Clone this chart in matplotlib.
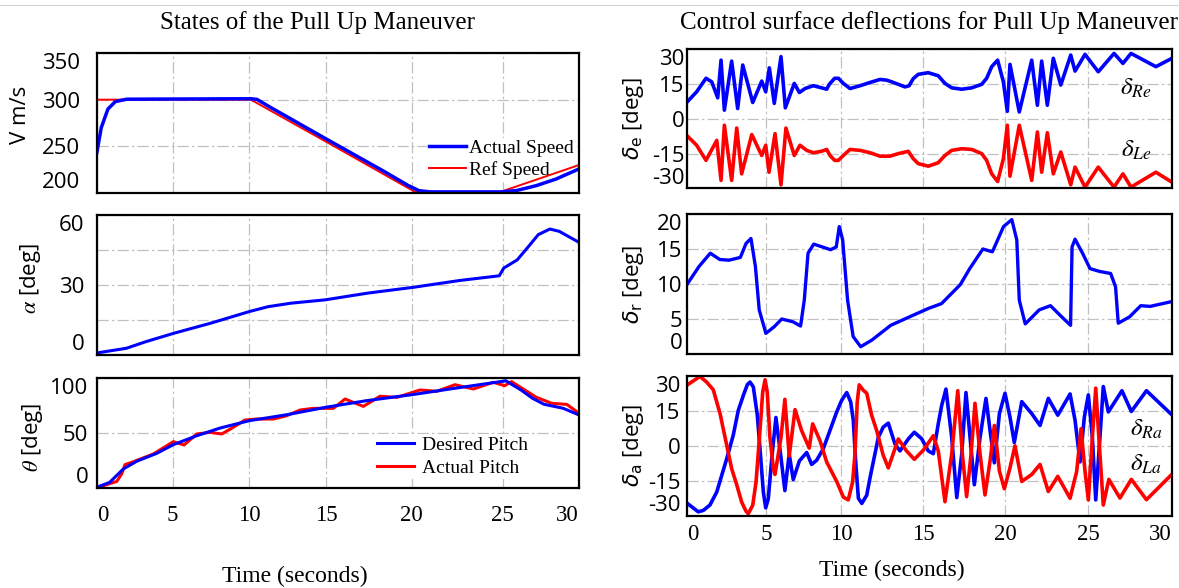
import numpy as np
import matplotlib
matplotlib.use("Agg")
import matplotlib.pyplot as plt
from matplotlib.lines import Line2D

# ---- data (time in seconds) ----
# speed [m/s]
t_vref = [0, 10.1, 15, 20.2, 24.85, 30]
v_ref = [300, 300, 255, 201, 201, 230]
t_vact = [0, 0.3, 0.74, 1.23, 1.97, 10.1, 10.5, 11.3, 15, 18.4, 19.8, 20.4, 21,
          24.9, 25.9, 27.2, 28.5, 30]
v_act = [242.5, 270, 290, 298, 300.5, 301, 300.3, 292.5, 258, 223, 208, 202.5, 201.2,
         201.2, 202.6, 207.9, 215, 225.8]

# angle of attack [deg]
t_alpha = [0, 1.95, 3.22, 5.06, 7.46, 10, 11.23, 12.73, 14.93, 17.44, 20.11, 22.64,
           24.81, 25.07, 25.95, 26.7, 27.33, 28.09, 28.71, 30]
alpha = [1.0, 3.0, 5.8, 9.4, 13.7, 18.7, 20.8, 22.3, 23.7, 26.6, 29.1, 32.0,
         34.0, 37.3, 40.8, 46.6, 51.6, 54.0, 53.0, 48.3]

# pitch [deg]
t_th_des = [0, 0.86, 1.75, 2.63, 3.95, 5.04, 6.57, 8.09, 10, 12.44, 15, 17.37, 20,
            22.47, 25, 25.2, 26.2, 26.96, 27.71, 28.96, 30]
th_des = [0.6, 5.2, 17.3, 24.3, 31.5, 39.4, 47.5, 54.5, 61.2, 66.6, 73.4, 79.4, 84.8,
          90.9, 97.0, 97.5, 89.1, 81.5, 76.1, 72.5, 66.4]
t_th_act = [0.1, 1.32, 1.64, 1.86, 2.41, 3.72, 5.04, 5.74, 6.57, 7.43, 8.2, 8.96, 9.72,
            10.48, 11.57, 12.44, 13.31, 14.17, 15.43, 16.11, 17.18, 18.15, 19.13,
            20.46, 21.38, 22.38, 23.39, 24.48, 25.13, 25.58, 27.21, 28.21, 29.2, 30]
th_act = [0.6, 6, 12.7, 21.2, 23.9, 30.9, 42.1, 39.1, 49.1, 50.6, 49.1, 55.2, 61.8,
          62.7, 62.7, 65.7, 70.9, 72.4, 72.4, 80.9, 74.2, 83.4, 82.4,
          89.1, 87.9, 93.9, 90, 96.1, 93, 96.7, 82.4, 77, 76, 68]

# elevator deflections [deg]
t_de_r = [0, 0.59, 1.18, 1.54, 1.92, 2.13, 2.34, 2.80, 3.18, 3.50, 4.13, 4.70, 4.95,
          5.19, 5.52, 5.97, 6.26, 6.86, 7.20, 7.58, 8.13, 8.69, 9.03, 9.20, 9.56, 9.81,
          10.13, 10.54, 11.15, 11.76, 12.37, 12.78, 13.08, 13.49, 13.90, 14.15, 14.41,
          14.71, 15.32, 15.93, 16.34, 16.75, 17.36, 17.97, 18.58, 18.88, 19.19, 19.55,
          19.90, 20.14, 20.30, 20.86, 21.61, 21.95, 22.21, 22.55, 22.91, 23.36, 23.96,
          24.22, 24.82, 25.61, 26.55, 27.08, 27.56, 29.04, 30]
de_r = [7.3, 11.6, 17.4, 15.9, 9.0, 25.2, 3.7, 24.8, 4.4, 23.1, 7.0, 16.2, 11.6,
        21.9, 6.6, 26.7, 4.7, 15.2, 11.3, 13.0, 14.2, 13.3, 12.7, 14.8, 17.4, 17.4,
        15.2, 13.0, 14.2, 15.6, 16.9, 16.6, 15.9, 14.8, 13.7, 14.2, 17.3,
        19.1, 19.8, 18.5, 15.2, 13.3, 12.7, 13.3, 14.8, 17.4, 22.4, 25.2,
        15.9, 3.2, 23.4, 2.9, 25.2, 5.8, 24.8, 5.8, 26.0, 14.5, 27.4,
        20.5, 27.7, 20.2, 28.1, 23.8, 28.1, 22.4, 26.0]
t_de_l = [0, 0.59, 1.18, 1.86, 2.13, 2.34, 2.80, 3.12, 3.43, 4.07, 4.70, 4.95, 5.17,
          5.57, 5.97, 6.30, 6.86, 7.24, 7.69, 8.13, 8.69, 9.03, 9.25, 9.56, 9.81, 10.13,
          10.54, 11.15, 11.76, 12.37, 12.98, 13.49, 14.10, 14.41, 14.71, 15.32, 15.93,
          16.34, 16.75, 17.36, 17.97, 18.58, 18.88, 19.19, 19.55, 19.90, 20.14, 20.30,
          20.86, 21.61, 21.95, 22.21, 22.55, 22.91, 23.36, 23.96, 24.22, 24.82, 25.61,
          26.55, 27.08, 27.56, 29.04, 30]
de_l = [-7.4, -11.4, -17.9, -9.3, -26.5, -2.8, -26.5, -4.0, -23.7, -6.8, -15.8, -11.4,
        -23.0, -6.4, -28.4, -4.0, -15.8, -11.4, -13.6, -14.6, -14.0, -13.2, -15.8,
        -17.9, -17.9, -15.8, -13.2, -13.6, -14.6, -16.1, -16.1, -15.0, -14.0, -17.2,
        -19.3, -20.4, -18.9, -15.8, -13.6, -12.9, -13.2, -15.0, -17.9, -23.7, -27.0,
        -17.2, -2.8, -24.7, -2.8, -26.5, -5.7, -23.0, -6.0, -23.7, -14.3, -28.4,
        -20.8, -29.4, -20.8, -29.4, -23.7, -29.4, -23.0, -27.3]

# rudder deflection [deg]
t_dr = [0, 0.74, 1.45, 2.05, 2.63, 3.35, 3.71, 4.02, 4.30, 4.54, 4.96, 5.52, 6.02, 6.77,
        7.28, 7.53, 7.78, 8.16, 9.29, 9.67, 9.87, 10.09, 10.39, 10.73, 11.19, 11.88,
        13.03, 14.17, 15.32, 16.13, 17.27, 17.85, 18.65, 19.23, 19.91, 20.41, 20.71,
        20.86, 21.22, 22.06, 22.74, 23.42, 23.95, 24.04, 24.22, 24.67, 25.12, 25.68,
        26.35, 26.64, 26.80, 27.47, 28.14, 28.70, 30]
dr = [10.0, 12.5, 14.4, 13.5, 13.4, 13.8, 15.8, 16.5, 12.5, 6.3, 2.95, 3.9, 5.0, 4.6,
      4.0, 7.7, 14.4, 15.7, 14.9, 15.3, 18.2, 16.3, 7.7, 2.5, 1.04, 2.0,
      4.1, 5.3, 6.5, 7.2, 9.9, 12.2, 15.0, 14.6, 18.2, 19.2, 16.3,
      7.7, 4.3, 6.3, 6.9, 5.3, 4.1, 15.3, 16.4, 14.4, 12.2, 11.8,
      11.5, 9.6, 4.4, 5.3, 6.9, 6.8, 7.5]

# aileron deflections [deg]
t_da_r = [0, 0.69, 1.01, 1.43, 1.86, 2.49, 2.90, 3.22, 3.54, 3.79, 3.96, 4.17, 4.42,
          4.59, 4.80, 4.95, 5.12, 5.35, 5.63, 5.97, 6.23, 6.52, 6.79, 7.20, 7.69, 8.02,
          8.36, 8.80, 9.25, 9.70, 10.03, 10.34, 10.58, 10.74, 10.90, 11.05, 11.26,
          11.56, 11.76, 12.27, 12.57, 12.88, 13.29, 13.59, 14.11, 14.47, 14.92, 15.32,
          15.63, 15.93, 16.14, 16.40, 16.75, 17.06, 17.36, 17.62, 17.87, 18.13, 18.48,
          18.84, 19.09, 19.35, 19.66, 20.0, 20.30, 20.56, 21.01, 21.61, 22.11, 22.61,
          23.18, 23.92, 24.22, 24.52, 24.78, 25.02, 25.26, 25.46, 25.71, 25.91, 26.21,
          27.02, 27.58, 28.48, 30]
da_r = [-24.6, -28.2, -27.6, -25.3, -19.7, -5.4, 4.6, 15.3, 21.7, 26.3, 27.4, 25.3, 13.2,
        -1.2, -19.7, -26.5, -22.6, -5.4, 12.2, -5.0, -19.1, -3.5, -14.4, -6.4, -2.8, -7.9,
        -6.1, -1.2, 6.7, 14.6, 19.6, 22.9, 18.9, 11.0, -8.3, -22.4, -24.6,
        -21.1, -13.7, 3.7, 8.1, 9.8, 0.8, -2.1, 3.1, 5.9, 3.1, -2.1,
        -3.3, 9.5, 17.4, 24.4, 3.7, -22.1, -3.5, 22.9, 3.7, -16.6, 3.7,
        20.4, 6.6, -7.2, 13.9, 22.6, 12.4, 1.5, 19.0, 13.9, 8.8, 20.4,
        13.2, 22.3, 11.0, -6.8, 12.4, 21.9, 3.7, -23.1, 3.7, 25.5, 14.6,
        23.7, 14.8, 23.7, 13.3]
t_da_l = [0, 0.80, 1.22, 1.64, 2.07, 2.49, 2.80, 3.12, 3.43, 3.71, 3.85, 4.13, 4.34,
          4.55, 4.76, 4.91, 5.05, 5.23, 5.46, 5.57, 5.97, 6.23, 6.52, 6.91, 7.35, 7.86,
          8.09, 8.58, 9.03, 9.70, 10.13, 10.43, 10.70, 10.84, 10.98, 11.10, 11.35,
          11.56, 11.86, 12.17, 12.57, 12.88, 13.49, 13.98, 14.47, 15.02, 15.63, 15.93,
          16.34, 16.75, 17.12, 17.40, 17.66, 17.93, 18.17, 18.48, 18.78, 19.09, 19.35,
          19.66, 19.96, 20.30, 20.60, 21.01, 21.61, 22.11, 22.61, 23.18, 23.92, 24.32,
          24.58, 24.82, 25.02, 25.26, 25.46, 25.71, 25.91, 26.24, 26.90, 27.58, 28.48, 30]
da_l = [26.2, 29.8, 27.4, 24.1, 13.8, 0.3, -9.7, -16.6, -24.0, -28.0, -29.0, -25.4, -15.4,
        3.1, 23.1, 28.4, 23.1, 3.7, -9.7, -12.2, 3.7, 20.0, -4.3, 15.6, 6.6, -0.9,
        9.5, 2.3, -6.9, -15.2, -21.9, -23.1, -15.4, -3.5, 18.9, 26.2, 23.9,
        22.6, 13.2, 6.6, -4.0, -9.4, 3.0, -2.0, -5.7, -1.8, 4.4, -2.1,
        -23.9, -3.5, 23.7, -3.5, -21.7, -3.5, 18.3, -3.5, -21.0, -6.4, 8.8,
        -10.8, -18.3, -9.4, 0.1, -15.2, -12.2, -7.9, -19.5, -13.0, -22.4, -10.8,
        7.4, -10.8, -23.1, 3.7, 24.8, -3.5, -25.3, -14.3, -22.3, -14.3, -23.0, -12.1]

T_TICKS = [0, 5, 10, 15, 20, 25, 30]

# ---- look ----
plt.rcParams['axes.unicode_minus'] = False
SERIF = 'Liberation Serif'
SANS = 'Open Sans'
BLUE = '#0000ff'
RED = '#ff0000'
W, H = 1179, 588

# the time grid of the original figure is not evenly spaced (pixel positions of 0..30 s)
GRID_L = [96.7, 172.7, 249.3, 326, 411.7, 502.7, 579]
GRID_R = [687.3, 766.5, 841.2, 923, 1005, 1088, 1172]


def px_box(x0, y0, x1, y1):
    return [x0 / W, 1 - y1 / H, (x1 - x0) / W, (y1 - y0) / H]


def uneven_scale(ax, grid):
    g = np.array(grid, float)
    s0 = (g[1] - g[0]) / 5
    s1 = (g[-1] - g[-2]) / 5
    tv = np.array([-100.0] + T_TICKS + [130.0])
    gp = np.concatenate([[g[0] - 100 * s0], g, [g[-1] + 100 * s1]])
    ax.set_xscale('function', functions=(lambda t: np.interp(t, tv, gp),
                                         lambda p: np.interp(p, gp, tv)))


def setup(ax, grid, ylim, yticks, ylabels, ypad, xlabels=False, xpad=6):
    uneven_scale(ax, grid)
    ax.set_xlim(0, 30)
    ax.set_xticks(T_TICKS)
    ax.set_ylim(*ylim)
    ax.set_yticks(yticks, ylabels)
    ax.grid(True, color='#c0c0c0', lw=0.9, ls=(0, (9, 2.5, 2, 2.5)))
    ax.set_axisbelow(True)
    for s in ax.spines.values():
        s.set_linewidth(1.6)
    ax.tick_params(length=0)
    ax.tick_params(axis='y', pad=ypad, labelsize=16, labelfontfamily=SANS)
    ax.tick_params(axis='x', pad=xpad, labelsize=16.5, labelfontfamily=SERIF,
                   labelbottom=xlabels)
    yl = ax.get_yticklabels()
    yl[0].set_va('bottom')
    yl[-1].set_va('top')
    if xlabels:
        xl = ax.get_xticklabels()
        xl[0].set_ha('left')
        xl[-1].set_ha('right')


def ylab(ax, text, x, y=0.5, mathfont='dejavusans'):
    ax.set_ylabel(text, family=SANS, fontsize=16, math_fontfamily=mathfont, va='center')
    ax.yaxis.set_label_coords(x, y)


fig = plt.figure(figsize=(W / 100, H / 100), dpi=100)
fig.add_artist(Line2D([0, 1], [1 - 4.5 / H] * 2, transform=fig.transFigure,
                      color='#d4d4d4', lw=0.8))

axL1 = fig.add_axes(px_box(96.7, 53, 579, 193))
axL2 = fig.add_axes(px_box(96.7, 215, 579, 355.3))
axL3 = fig.add_axes(px_box(96.7, 378, 579, 488))
axR1 = fig.add_axes(px_box(687.3, 49, 1172, 188.5))
axR2 = fig.add_axes(px_box(687.3, 214, 1172, 354))
axR3 = fig.add_axes(px_box(687.3, 376, 1172, 516))

leg_kw = dict(loc='upper left', borderaxespad=0, borderpad=0.1, handlelength=1.9,
              frameon=True, fancybox=False, edgecolor='none', facecolor='white',
              framealpha=1, prop={'family': SERIF, 'size': 14})

# speed
h_ref, = axL1.plot(t_vref, v_ref, color=RED, lw=1.4)
h_act, = axL1.plot(t_vact, v_act, color=BLUE, lw=2.5)
setup(axL1, GRID_L, (200, 350), [200, 250, 300, 350], ['200', '250', '300', '350'], 12)
ylab(axL1, 'V m/s', -0.157, 0.557)
leg = axL1.legend([h_act, h_ref], ['Actual Speed', 'Ref Speed'], bbox_to_anchor=(0.685, 0.395),
                  labelspacing=0.2, handletextpad=0.15, **leg_kw)
leg.set_zorder(1.5)   # hides the grid, but the curves stay on top

# alpha
axL2.plot(t_alpha, alpha, color=BLUE, lw=2.2)
setup(axL2, GRID_L, (0, 60), [0, 15, 30, 45, 60], ['0', '', '30', '', '60'], 9)
ylab(axL2, r'$\alpha$ [deg]', -0.137, 0.551, 'stix')

# pitch
h_pa, = axL3.plot(t_th_act, th_act, color=RED, lw=2.2)
h_pd, = axL3.plot(t_th_des, th_des, color=BLUE, lw=2.2)
setup(axL3, GRID_L, (0, 100), [0, 50, 100], ['0', '50', '100'], 6, xlabels=True, xpad=12)
ylab(axL3, r'$\theta$ [deg]', -0.133, 0.464, 'stix')
leg = axL3.legend([h_pd, h_pa], ['Desired Pitch', 'Actual Pitch'], bbox_to_anchor=(0.577, 0.489),
                  labelspacing=0.3, handletextpad=0.44, **leg_kw)
leg.set_zorder(1.5)
axL3.set_xlabel('Time (seconds)', family=SERIF, fontsize=17)
axL3.xaxis.set_label_coords(0.411, -0.71)

# elevators
axR1.plot(t_de_r, de_r, color=BLUE, lw=2.6)
axR1.plot(t_de_l, de_l, color=RED, lw=2.6)
setup(axR1, GRID_R, (-30, 30), [-30, -15, 0, 15, 30], ['-30', '-15', '0', '15', '30'], 2)
ylab(axR1, r'$\delta_\mathrm{e}$ [deg]', -0.112)
axR1.text(0.926, 0.72, r'$\delta_{Re}$', transform=axR1.transAxes, fontsize=18,
          math_fontfamily='stix', ha='center', va='center')
axR1.text(0.926, 0.276, r'$\delta_{Le}$', transform=axR1.transAxes, fontsize=18,
          math_fontfamily='stix', ha='center', va='center')

# rudder
axR2.plot(t_dr, dr, color=BLUE, lw=2.4)
setup(axR2, GRID_R, (0, 20), [0, 5, 10, 15, 20], ['0', '5', '10', '15', '20'], 3.5)
ylab(axR2, r'$\delta_\mathrm{r}$ [deg]', -0.112)

# ailerons
axR3.plot(t_da_r, da_r, color=BLUE, lw=2.6)
axR3.plot(t_da_l, da_l, color=RED, lw=2.6)
setup(axR3, GRID_R, (-30, 30), [-30, -15, 0, 15, 30], ['-30', '-15', '0', '15', '30'], 5,
      xlabels=True, xpad=6)
ylab(axR3, r'$\delta_\mathrm{a}$ [deg]', -0.112)
axR3.text(0.946, 0.62, r'$\delta_{Ra}$', transform=axR3.transAxes, fontsize=18,
          math_fontfamily='stix', ha='center', va='center')
axR3.text(0.946, 0.37, r'$\delta_{La}$', transform=axR3.transAxes, fontsize=18,
          math_fontfamily='stix', ha='center', va='center')
axR3.set_xlabel('Time (seconds)', family=SERIF, fontsize=17)
axR3.xaxis.set_label_coords(0.422, -0.314)

fig.text(318 / W, 1 - 23 / H, 'States of the Pull Up Maneuver', ha='center', va='center',
         family=SERIF, fontsize=18)
fig.text(929 / W, 1 - 23 / H, 'Control surface deflections for Pull Up Maneuver',
         ha='center', va='center', family=SERIF, fontsize=18)

fig.savefig('out.png', dpi=100)
